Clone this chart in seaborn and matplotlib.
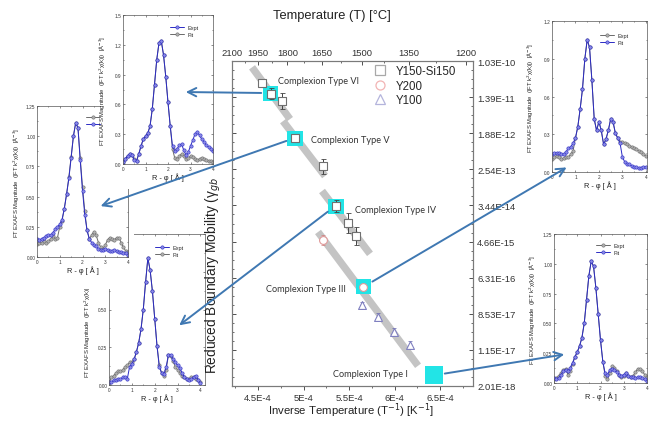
import numpy as np
import pandas as pd
import matplotlib
matplotlib.use("Agg")
import matplotlib.pyplot as plt
import seaborn as sns
from matplotlib.patches import Rectangle, FancyArrowPatch
from matplotlib.lines import Line2D
from matplotlib.ticker import MultipleLocator, FixedLocator

# ---------------- data ----------------
X_TICKS = [4.5e-4, 5.0e-4, 5.5e-4, 6.0e-4, 6.5e-4]
X_TICK_LABELS = ["4.5E-4", "5E-4", "5.5E-4", "6E-4", "6.5E-4"]
TOP_T = [2100, 1950, 1800, 1650, 1500, 1350, 1200]
TOP_T_MINOR = [2025, 1875, 1725, 1575, 1425, 1275]
Y_TICKS = [-23, -25, -27, -29, -31, -33, -35, -37, -39, -41]
Y_TICK_LABELS = ["1.03E-10", "1.39E-11", "1.88E-12", "2.54E-13", "3.44E-14",
                 "4.66E-15", "6.31E-16", "8.53E-17", "1.15E-17", "2.01E-18"]

# Y150-Si150 (squares)
Y150_X = [4.540e-4, 4.639e-4, 4.760e-4, 4.906e-4, 5.211e-4, 5.357e-4, 5.492e-4, 5.576e-4]
Y150_Y = [-24.23, -24.80, -25.21, -27.29, -28.84, -31.05, -31.97, -32.69]
Y150_ERR = [0.0, 0.33, 0.45, 0.2, 0.4, 0.33, 0.55, 0.5]
# Y200 (circles)
Y200_X = [5.211e-4, 5.657e-4]
Y200_Y = [-32.90, -35.49]
Y200_ERR = [0.28, 0.0]
# Y100 (triangles)
Y100_X = [5.642e-4, 5.818e-4, 5.989e-4, 6.175e-4]
Y100_Y = [-36.54, -37.18, -38.01, -38.72]
Y100_ERR = [0.2, 0.2, 0.2, 0.2]

# gray trend bands (start / end)
BAND_X0 = [4.434e-4, 4.774e-4, 5.203e-4, 5.159e-4]
BAND_X1 = [4.851e-4, 5.236e-4, 5.730e-4, 6.258e-4]
BAND_Y0 = [-23.35, -26.33, -30.20, -32.47]
BAND_Y1 = [-26.22, -29.37, -33.68, -39.88]

# highlighted complexion points
HL_X = [4.639e-4, 4.906e-4, 5.357e-4, 5.657e-4, 6.437e-4]
HL_Y = [-24.80, -27.29, -31.05, -35.49, -40.41]
HL_NAMES = ["Complexion Type VI", "Complexion Type V", "Complexion Type IV",
            "Complexion Type III", "Complexion Type I"]

# EXAFS inset spectra, R from 0 to 4 A
R = [round(0.1 * i, 1) for i in range(41)]
A_EXPT = [.11, .12, .12, .13, .12, .13, .15, .17, .15, .16, .25, .30, .40, .52, .66, .83, 1.00, 1.11, 1.07, .82, .58,
          .38, .22, .15, .18, .21, .18, .12, .08, .07, .10, .14, .16, .15, .14, .16, .16, .12, .08, .05, .04]
A_FIT = [.15, .14, .15, .16, .17, .18, .18, .20, .23, .25, .27, .31, .40, .52, .65, .82, 1.00, 1.11, 1.07, .80, .55,
         .35, .22, .15, .12, .10, .09, .07, .06, .06, .07, .06, .05, .05, .06, .05, .04, .04, .03, .03, .02]
B_EXPT = [.02, .05, .08, .10, .09, .04, .03, .10, .18, .25, .28, .31, .38, .55, .80, 1.05, 1.22, 1.24, 1.10, .88, .62,
          .38, .18, .13, .15, .19, .20, .14, .09, .12, .18, .24, .30, .32, .29, .25, .22, .19, .17, .15, .13]
B_FIT = [.02, .05, .08, .10, .09, .05, .03, .10, .18, .25, .28, .31, .38, .55, .80, 1.05, 1.22, 1.24, 1.10, .88, .62,
         .38, .15, .06, .05, .08, .10, .08, .05, .06, .08, .07, .05, .04, .05, .06, .05, .04, .03, .03, .02]
C_EXPT = [.02, .02, .03, .03, .04, .04, .05, .05, .04, .12, .14, .17, .22, .28, .37, .50, .68, .84, .76, .62, .44,
          .26, .12, .08, .07, .12, .20, .20, .17, .15, .13, .11, .08, .05, .04, .03, .04, .05, .06, .03, .01]
C_FIT = [.01, .05, .06, .08, .09, .09, .10, .12, .13, .15, .15, .17, .22, .28, .37, .50, .68, .84, .76, .62, .44,
         .26, .13, .08, .06, .10, .20, .19, .16, .12, .10, .08, .06, .05, .04, .04, .05, .05, .04, .03, .02]
D_EXPT = [.10, .12, .13, .12, .10, .11, .12, .12, .14, .17, .27, .36, .50, .66, .90, 1.05, .99, .73, .42, .33, .40,
          .33, .22, .26, .33, .42, .40, .31, .27, .24, .24, .23, .22, .21, .20, .19, .18, .17, .16, .14, .13]
D_FIT = [.14, .15, .15, .15, .14, .14, .16, .19, .20, .23, .27, .36, .50, .66, .90, 1.05, .99, .73, .42, .33, .40,
         .33, .22, .26, .33, .42, .40, .31, .27, .23, .12, .08, .06, .06, .05, .04, .04, .03, .03, .04, .04]
E_EXPT = [.03, .04, .06, .08, .11, .12, .07, .10, .16, .22, .26, .31, .38, .50, .70, .90, 1.02, .98, .80, .58, .36,
          .18, .06, .03, .08, .14, .13, .10, .07, .05, .06, .08, .06, .05, .06, .09, .12, .12, .10, .07, .05]
E_FIT = [.04, .03, .04, .07, .10, .11, .10, .13, .17, .22, .26, .31, .38, .50, .70, .90, 1.02, .98, .80, .58, .36,
         .18, .08, .07, .11, .12, .11, .09, .07, .06, .07, .08, .06, .05, .05, .04, .05, .05, .04, .03, .02]

# ---------------- figure ----------------
sns.set_theme(style="ticks")
plt.rcParams["font.family"] = ["Liberation Sans", "DejaVu Sans"]

W, H = 650, 427
fig = plt.figure(figsize=(6.5, 4.27), dpi=100)
fig.patch.set_facecolor("white")


def fx(px):
    return px / W


def fy(py):
    return 1 - py / H


def rect(x0, y0, x1, y1):
    return [fx(x0), fy(y1), (x1 - x0) / W, (y1 - y0) / H]


# ---------- main axes ----------
ax = fig.add_axes(rect(232, 62, 473, 387))
ax.set_zorder(0)
XMIN = 1 / (2100 + 273.15)
XMAX = 6.862e-4

for x0, x1, y0, y1 in zip(BAND_X0, BAND_X1, BAND_Y0, BAND_Y1):
    ax.plot([x0, x1], [y0, y1], color="#c4c4c4", lw=5.3, solid_capstyle="butt", zorder=1)

ax.scatter(HL_X[:4], HL_Y[:4], marker="s", s=120, c="#22e4e6", edgecolors="none", zorder=3)
ax.scatter(HL_X[4:], HL_Y[4:], marker="s", s=165, c="#22e4e6", edgecolors="none", zorder=3)

ax.errorbar(Y150_X, Y150_Y, yerr=Y150_ERR, fmt="none", ecolor="#444444", elinewidth=0.7,
            capsize=1.8, capthick=0.6, zorder=4)
ax.errorbar(Y200_X, Y200_Y, yerr=Y200_ERR, fmt="none", ecolor="#d08080", elinewidth=0.6,
            capsize=1.5, capthick=0.5, zorder=4)
ax.errorbar(Y100_X, Y100_Y, yerr=Y100_ERR, fmt="none", ecolor="#6060a8", elinewidth=0.6,
            capsize=1.5, capthick=0.5, zorder=4)

sns.scatterplot(x=Y150_X, y=Y150_Y, marker="s", s=30, color="white", edgecolor="#707070",
                linewidth=0.8, ax=ax, zorder=5, legend=False)
sns.scatterplot(x=Y200_X, y=Y200_Y, marker="o", s=32, color="white", edgecolor="#e09a9a",
                linewidth=0.8, ax=ax, zorder=5, legend=False)
sns.scatterplot(x=Y100_X, y=Y100_Y, marker="^", s=32, color="white", edgecolor="#7f7fc0",
                linewidth=0.8, ax=ax, zorder=5, legend=False)

ax.set_xlim(XMIN, XMAX)
ax.set_ylim(-41, -23)
ax.set_xticks(X_TICKS)
ax.set_xticklabels(X_TICK_LABELS)
ax.xaxis.set_minor_locator(MultipleLocator(0.25e-4))
ax.set_yticks(Y_TICKS)
ax.set_yticklabels(Y_TICK_LABELS)
ax.yaxis.set_minor_locator(MultipleLocator(0.5))
ax.tick_params(axis="x", which="both", top=False, bottom=True, direction="out",
               labelsize=6.8, colors="#333333", pad=2)
ax.tick_params(axis="x", which="major", length=3, width=0.6)
ax.tick_params(axis="x", which="minor", length=1.5, width=0.5)
ax.tick_params(axis="y", which="both", left=True, right=True, labelleft=False, labelright=True,
               direction="in", labelsize=6.8, colors="#333333", pad=3)
ax.tick_params(axis="y", which="major", length=3, width=0.6)
ax.tick_params(axis="y", which="minor", length=1.5, width=0.5)
for s in ax.spines.values():
    s.set_color("#7a7a7a")
    s.set_linewidth(0.8)

ax2 = ax.twiny()
ax2.set_xlim(XMIN, XMAX)
ax2.xaxis.set_major_locator(FixedLocator([1 / (t + 273.15) for t in TOP_T]))
ax2.xaxis.set_minor_locator(FixedLocator([1 / (t + 273.15) for t in TOP_T_MINOR]))
ax2.set_xticklabels([str(t) for t in TOP_T])
ax2.tick_params(axis="x", which="both", direction="in", labelsize=6.8, colors="#333333", pad=3)
ax2.tick_params(axis="x", which="major", length=3, width=0.6)
ax2.tick_params(axis="x", which="minor", length=1.5, width=0.5)
for s in ax2.spines.values():
    s.set_color("#7a7a7a")
    s.set_linewidth(0.8)

handles = [
    Line2D([], [], ls="none", marker="s", ms=6.5, mfc="white", mec="#a8a8a8", mew=0.9),
    Line2D([], [], ls="none", marker="o", ms=6.5, mfc="white", mec="#f2b4b4", mew=0.9),
    Line2D([], [], ls="none", marker="^", ms=6.5, mfc="white", mec="#b4b4dc", mew=0.9),
]
ax.legend(handles, ["Y150-Si150", "Y200", "Y100"], loc="upper left",
          bbox_to_anchor=(fx(374), fy(66)), bbox_transform=fig.transFigure, frameon=False,
          fontsize=8.3, handletextpad=0.9, labelspacing=0.22, borderaxespad=0, borderpad=0,
          handlelength=1.0)

# complexion labels
LABEL_PX = [(278, 82), (311, 141), (355, 211), (266, 290), (333, 375)]
for name, (px, py) in zip(HL_NAMES, LABEL_PX):
    fig.text(fx(px), fy(py), name, ha="left", va="center", fontsize=6.6, color="#333333",
             family=["Lato", "DejaVu Sans"], zorder=4)

fig.text(fx(351), fy(411), "Inverse Temperature (T$^{-1}$) [K$^{-1}$]", ha="center", va="center",
         fontsize=8.2, color="#222222")
fig.text(fx(332), fy(16), "Temperature (T) [°C]", ha="center", va="center",
         fontsize=9.3, color="#222222")
fig.text(fx(213), fy(275), "Reduced Boundary Mobility (γ$_{gb}$", ha="center", va="center",
         rotation=90, fontsize=9.9, color="#222222", zorder=5)

# ---------- insets ----------
BLUE = "#2b2bc4"
BLUE_F = "#8a8ae6"
GRAY = "#6a6a6a"
GRAY_F = "#b0b0b0"
YLAB_FULL = "FT EXAFS Magnitude  (|FT k$^2$χ(k)|)  [Å$^{-3}$]"
YLAB_CUT = "FT EXAFS Magnitude  (|FT k$^2$χ(k)|)"


def make_inset(box, bg, xlim, ylim, yticks, yfmt, gray, blue, first, labels, leg_px, zo,
               ylab=YLAB_FULL, ylab_y=0.5):
    fig.add_artist(Rectangle((fx(bg[0]), fy(bg[3])), (bg[2] - bg[0]) / W, (bg[3] - bg[1]) / H,
                             transform=fig.transFigure, facecolor="white", edgecolor="none",
                             zorder=zo - 0.05))
    a = fig.add_axes(rect(*box))
    a.set_zorder(zo)
    a.set_facecolor("white")
    df = pd.DataFrame({"R": R, "gray": gray, "blue": blue})
    sns.lineplot(data=df, x="R", y="gray", ax=a, color=GRAY, lw=0.7, marker="o", markersize=2.4,
                 markerfacecolor=GRAY_F, markeredgecolor=GRAY, markeredgewidth=0.4)
    sns.lineplot(data=df, x="R", y="blue", ax=a, color=BLUE, lw=0.7, marker="o", markersize=2.4,
                 markerfacecolor=BLUE_F, markeredgecolor=BLUE, markeredgewidth=0.4)
    a.set_xlim(*xlim)
    a.set_ylim(*ylim)
    a.set_xticks([0, 1, 2, 3, 4])
    a.set_xticklabels(["0", "1", "2", "3", "4"])
    a.set_yticks(yticks)
    a.set_yticklabels([yfmt.format(v) for v in yticks])
    a.xaxis.set_minor_locator(MultipleLocator(0.5))
    a.yaxis.set_minor_locator(MultipleLocator((yticks[1] - yticks[0]) / 2))
    a.tick_params(which="both", direction="in", top=True, right=True, labelsize=3.4,
                  length=1.6, width=0.4, pad=1.2, colors="#333333")
    a.tick_params(which="minor", length=0.9)
    for s in a.spines.values():
        s.set_color("#555555")
        s.set_linewidth(0.5)
    a.set_xlabel("R - φ [ Å ]", fontsize=5.3, labelpad=1.5, color="#222222")
    a.set_ylabel(ylab, fontsize=4.2, labelpad=2.5, color="#222222")
    a.yaxis.set_label_coords(-0.17, ylab_y)
    lines = a.get_lines()
    hl = [lines[0], lines[1]] if first == "gray" else [lines[1], lines[0]]
    a.legend(hl, labels, loc="upper left", bbox_to_anchor=(fx(leg_px[0]), fy(leg_px[1])),
             bbox_transform=fig.transFigure, frameon=False, fontsize=4.0, handlelength=2.6,
             handletextpad=0.5, labelspacing=0.3, borderpad=0, borderaxespad=0)
    return a


# bottom-left (drawn first, partly covered)
make_inset((109, 235, 205, 386), (84, 228, 211, 427), (0, 4.2), (0, 1.0),
           [0, 0.25, 0.5, 0.75, 1.0], "{:.2f}", C_FIT, C_EXPT, "blue", ["Expt", "Fit"],
           (155, 246), 1.1, ylab=YLAB_CUT, ylab_y=0.36)
# left (legend labels hidden behind the top-middle inset in the reference)
make_inset((37, 107, 128, 258), (8, 100, 134, 290), (0, 4), (0, 1.25),
           [0, 0.25, 0.5, 0.75, 1.0, 1.25], "{:.2f}", A_EXPT, A_FIT, "gray", ["", ""],
           (86, 116), 2.1)
# top middle
make_inset((123, 16, 213, 165), (101, 4, 222, 190), (0, 4), (0, 1.5),
           [0, 0.3, 0.6, 0.9, 1.2, 1.5], "{:.1f}", B_FIT, B_EXPT, "blue", ["Expt", "Fit"],
           (170, 26), 3.1)
# top right
make_inset((552, 22, 647, 173), (522, 8, 650, 196), (0, 4.05), (0, 1.2),
           [0, 0.3, 0.6, 0.9, 1.2], "{:.1f}", D_EXPT, D_FIT, "gray", ["Expt", "Fit"],
           (600, 34), 1.1)
# bottom right
make_inset((554, 235, 647, 384), (524, 226, 650, 412), (0, 4), (0, 1.25),
           [0, 0.25, 0.5, 0.75, 1.0, 1.25], "{:.2f}", E_EXPT, E_FIT, "gray", ["Expt", "Fit"],
           (596, 244), 1.1)

# ---------- arrows ----------
ARROWS = [((264, 94), (183, 93)), ((289, 141), (98, 208)), ((330, 211), (177, 328)),
          ((370, 284), (569, 167)), ((442, 375), (567, 355))]
for (x0, y0), (x1, y1) in ARROWS:
    arr = FancyArrowPatch((fx(x0), fy(y0)), (fx(x1), fy(y1)), transform=fig.transFigure,
                          arrowstyle="->,head_length=0.6,head_width=0.3", mutation_scale=10,
                          lw=1.4, color="#3f78b2", zorder=6)
    fig.add_artist(arr)

fig.savefig("out.png", dpi=100, facecolor="white")
